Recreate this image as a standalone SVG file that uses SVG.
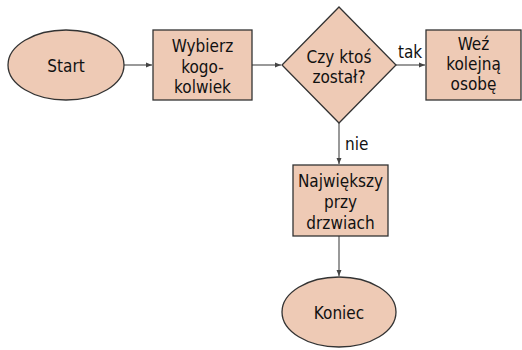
<svg xmlns="http://www.w3.org/2000/svg" width="522" height="350" viewBox="0 0 522 350">
<defs>
<marker id="arr" viewBox="0 0 6 6" refX="6" refY="3" markerWidth="6" markerHeight="6" orient="auto" markerUnits="userSpaceOnUse">
<path d="M0,0.5 L6,3 L0,5.5 z" fill="#444"/>
</marker>
</defs>
<style>
.n{fill:#eecab5;stroke:#333;stroke-width:1.3}
.t{font-family:"DejaVu Sans Condensed","DejaVu Sans",sans-serif;font-stretch:condensed;font-size:17px;fill:#111;text-anchor:middle}
.l{font-family:"DejaVu Sans Condensed","DejaVu Sans",sans-serif;font-stretch:condensed;font-size:17px;fill:#111}
.c{stroke:#555;stroke-width:1.2;fill:none;marker-end:url(#arr)}
</style>
<rect width="522" height="350" fill="#fff"/>
<g id="connectors">
<line class="c" x1="124" y1="65" x2="152" y2="65"/>
<line class="c" x1="252" y1="65" x2="281" y2="65"/>
<line class="c" x1="396" y1="65" x2="425" y2="65"/>
<line class="c" x1="339" y1="123" x2="339" y2="164"/>
<line class="c" x1="339" y1="236" x2="339" y2="276"/>
<text class="l" x="398" y="58">tak</text>
<text class="l" x="345" y="150">nie</text>
</g>
<g id="start">
<ellipse class="n" cx="66" cy="65" rx="58" ry="35"/>
<text class="t" x="66" y="72">Start</text>
</g>
<g id="wybierz">
<rect class="n" x="153" y="30" width="99" height="70"/>
<text class="t" x="202.5" y="52">Wybierz</text>
<text class="t" x="202.5" y="73">kogo-</text>
<text class="t" x="202.5" y="93">kolwiek</text>
</g>
<g id="decyzja">
<polygon class="n" points="339,7 396,65 339,123 282,65"/>
<text class="t" x="339" y="63">Czy ktoś</text>
<text class="t" x="339" y="83">został?</text>
</g>
<g id="wez">
<rect class="n" x="426" y="30" width="95" height="70"/>
<text class="t" x="473.5" y="50">Weź</text>
<text class="t" x="473.5" y="70">kolejną</text>
<text class="t" x="473.5" y="90">osobę</text>
</g>
<g id="najwiekszy">
<rect class="n" x="293" y="165" width="95" height="71"/>
<text class="t" x="340.5" y="187">Największy</text>
<text class="t" x="340.5" y="208">przy</text>
<text class="t" x="340.5" y="229">drzwiach</text>
</g>
<g id="koniec">
<ellipse class="n" cx="339" cy="312" rx="57" ry="35"/>
<text class="t" x="339" y="319">Koniec</text>
</g>
</svg>
